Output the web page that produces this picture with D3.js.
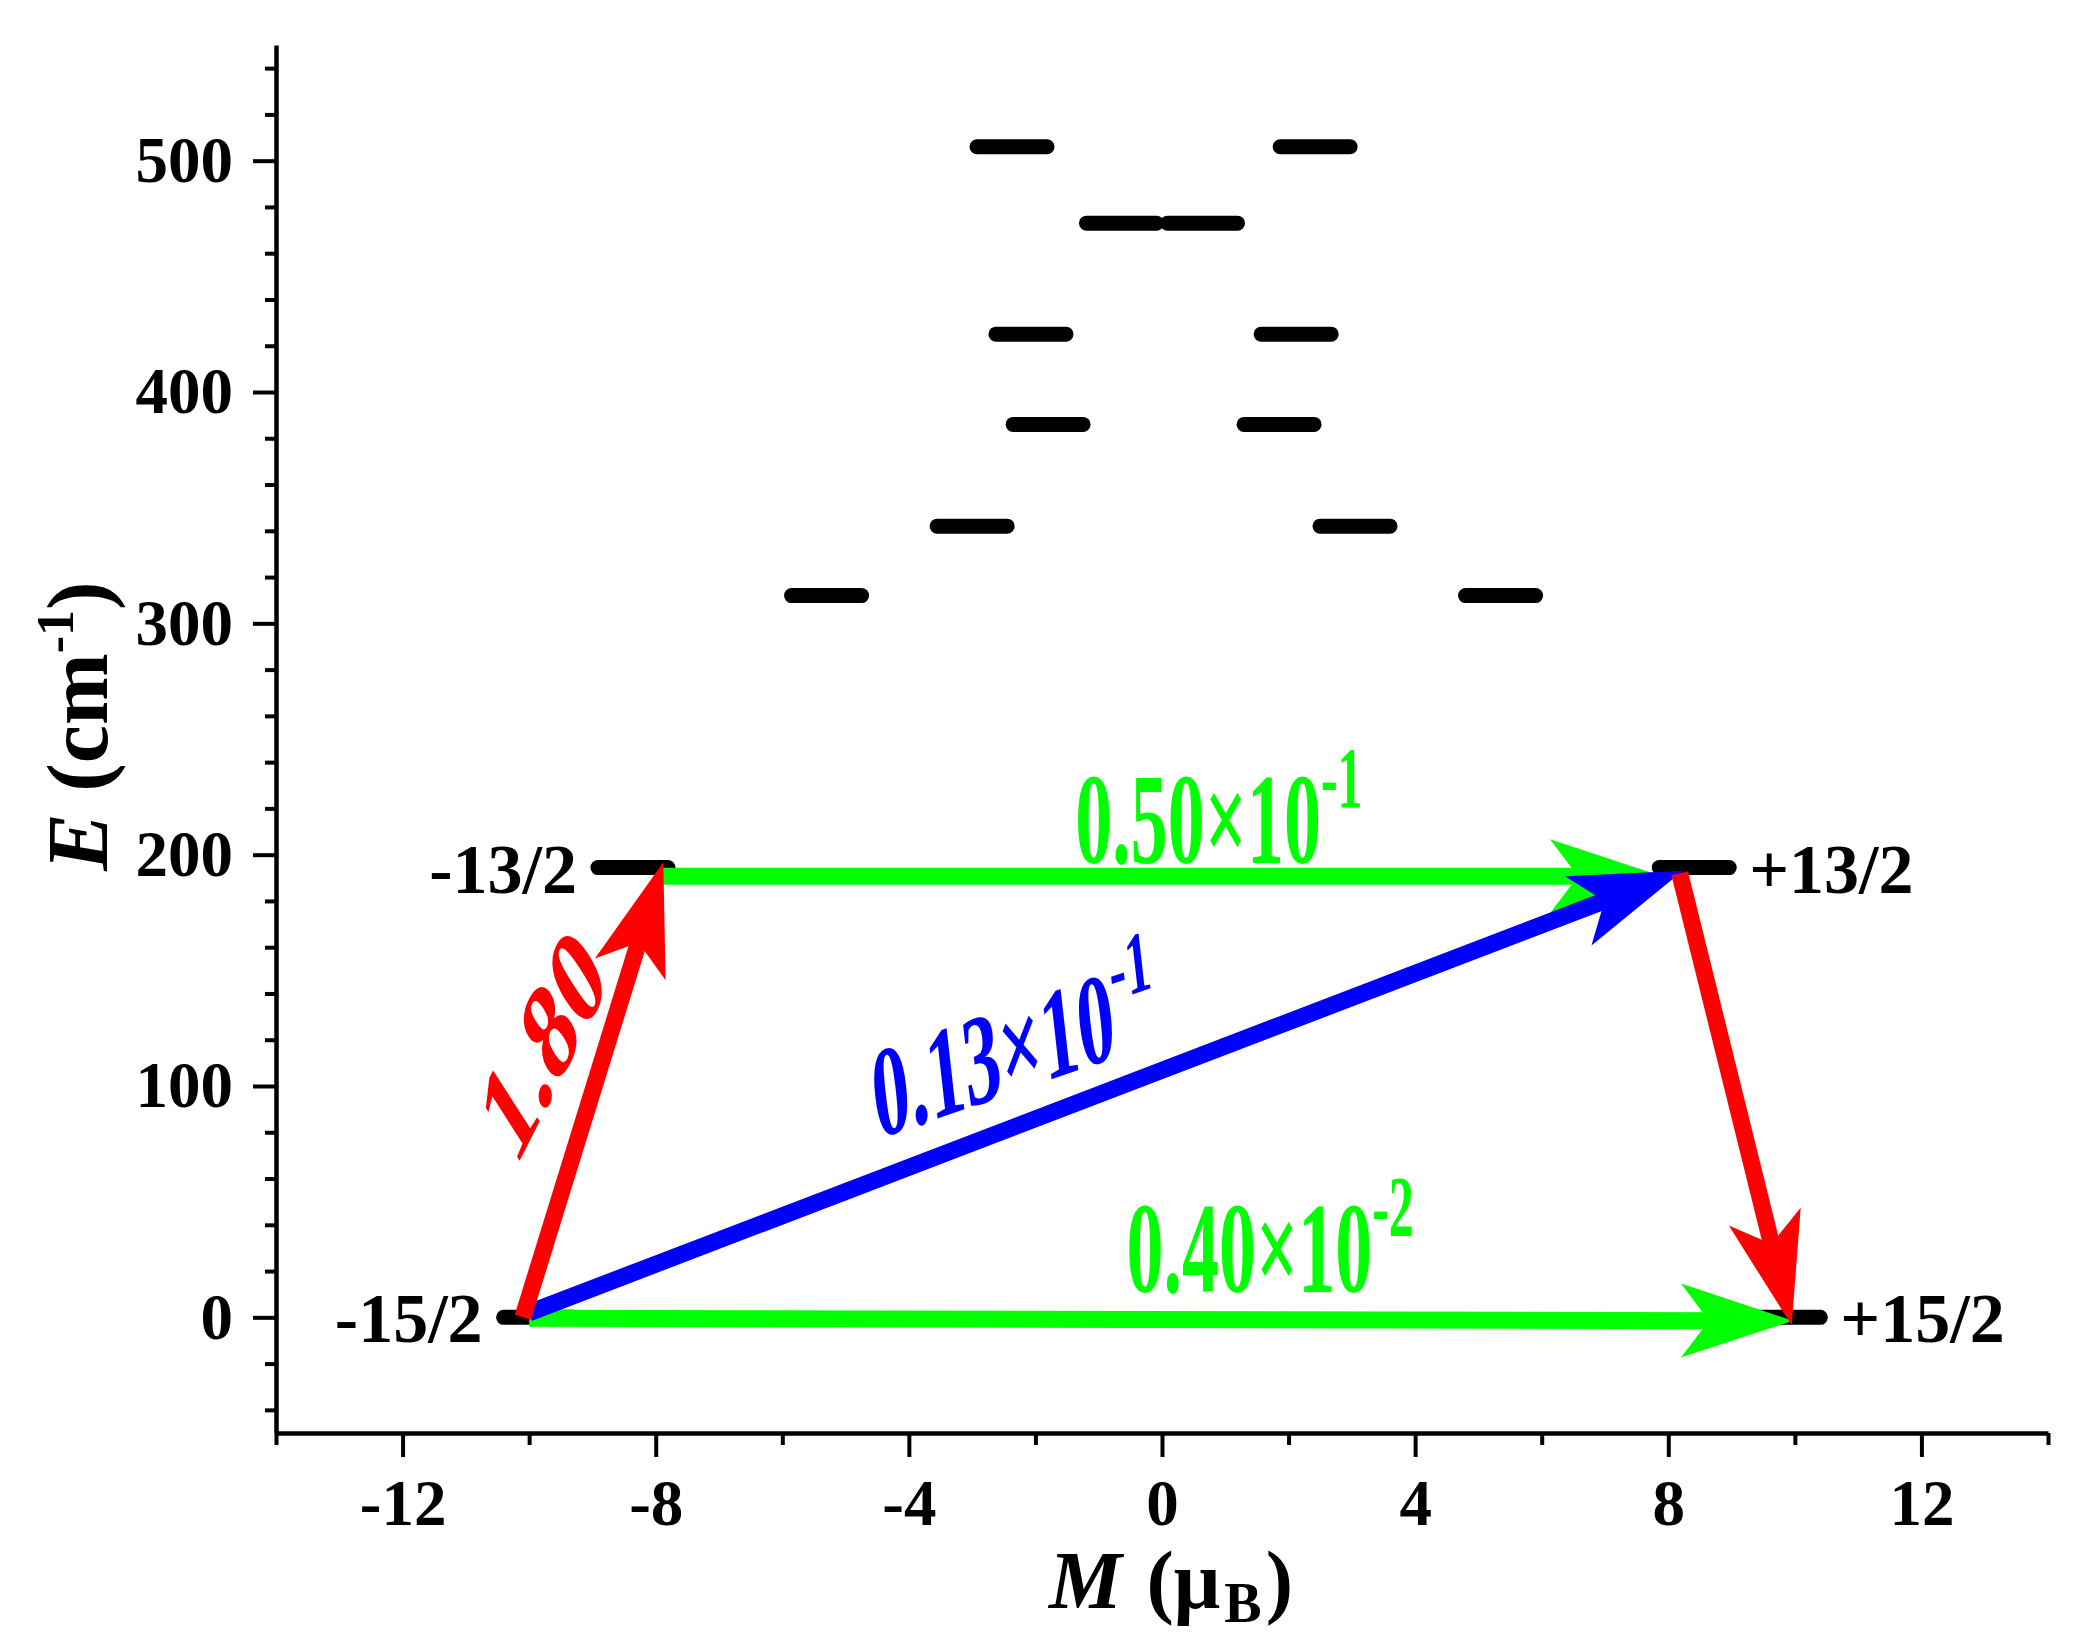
<!DOCTYPE html>
<html>
<head>
<meta charset="utf-8">
<script src="https://cdn.jsdelivr.net/npm/d3@7"></script>
<style>
body { margin: 0; background: #fff; }
text { font-family: "Liberation Serif", "Times New Roman", serif; }
</style>
</head>
<body>
<div id="chart_area"></div>
<script>
// Kramers doublets: magnetic moment M (muB) and energy E (cm-1)
var levelM = [-9.85, 9.85, -8.36, 8.41, -5.30, 5.35, -3.00, 3.05, -1.80, 1.85, -2.07, 2.12, -0.64, 0.64, -2.37, 2.42];
var levelE = [0, 0, 194.4, 194.4, 312, 312, 342, 342, 386, 386, 425, 425, 473, 473, 506, 506];

// named ground / first excited states
var stateNames = ["-15/2", "+15/2", "-13/2", "+13/2"];
var stateM = [-9.85, 9.85, -8.36, 8.41];
var stateE = [0, 0, 194.4, 194.4];

// transitions (arrows) with their matrix elements
var transType = ["qtm", "qtm", "orbach", "phonon", "phonon"];
var transFromM = [-7.9, -10.0, -10.0, -10.1, 8.18];
var transFromE = [190.7, -0.4, 2.0, 0, 192];
var transToM = [7.9, 9.97, 8.23, -7.88, 9.95];
var transToE = [190.7, -1.5, 193, 196.7, -3.5];
var transText = ["0.50\u00d710", "0.40\u00d710", "0.13\u00d710", "1.80", ""];
var transExp = ["-1", "-2", "-1", "", ""];
// where each value label starts (M, E) and its slope in degrees
var labelM = [-1.37, -0.56, -4.50, -10.22, 0];
var labelE = [196.4, 11.0, 77.0, 64.0, 0];
var labelAngle = [0, 0, -19, -63, 0];

// axis ticks
var xTicks = [-12, -8, -4, 0, 4, 8, 12];
var xMinor = [-14, -10, -6, -2, 2, 6, 10, 14];
var yTicks = [0, 100, 200, 300, 400, 500];
var yMinor = [-40, -20, 20, 40, 60, 80, 120, 140, 160, 180, 220, 240, 260, 280,
              320, 340, 360, 380, 420, 440, 460, 480, 520, 540];

var width = 2075, height = 1647;
var BAR_HALF = 35, HEAD_LEN = 112, HEAD_W = 37, HEAD_NOTCH = 84;
var STRETCH = 1.75;

var svg = d3.select("#chart_area")
    .append("svg")
        .attr("width", width)
        .attr("height", height);

var x = d3.scaleLinear().domain([-14, 14]).range([276, 2048]);
var y = d3.scaleLinear().domain([-50, 550]).range([1433, 45]);

var colour = d3.scaleOrdinal()
    .domain(["qtm", "orbach", "phonon"])
    .range(["#00ff00", "#0000ff", "#ff0000"]);

// x axis
var xAxis = d3.axisBottom(x)
    .tickValues(xTicks)
    .tickSize(24)
    .tickSizeOuter(0)
    .tickPadding(22)
    .tickFormat(function(d){ return String(d); });
svg.append("g")
    .attr("transform", "translate(0," + y(-50) + ")")
    .call(xAxis);
svg.append("g")
    .attr("transform", "translate(0," + y(-50) + ")")
    .call(d3.axisBottom(x).tickValues(xMinor).tickSize(12).tickSizeOuter(0).tickFormat(""))
    .select(".domain").remove();

// y axis
var yAxis = d3.axisLeft(y)
    .tickValues(yTicks)
    .tickSize(23)
    .tickSizeOuter(0)
    .tickPadding(20)
    .tickFormat(function(d){ return String(d); });
svg.append("g")
    .attr("transform", "translate(" + x(-14) + ",0)")
    .call(yAxis);
svg.append("g")
    .attr("transform", "translate(" + x(-14) + ",0)")
    .call(d3.axisLeft(y).tickValues(yMinor).tickSize(11).tickSizeOuter(0).tickFormat(""))
    .select(".domain").remove();

svg.selectAll(".domain").attr("stroke", "#000").attr("stroke-width", 4.5);
svg.selectAll(".tick line").attr("stroke", "#000").attr("stroke-width", 4);
svg.selectAll(".tick text")
    .attr("font-family", "'Liberation Serif', 'Times New Roman', serif")
    .attr("font-size", "65px")
    .attr("font-weight", "bold")
    .attr("fill", "#000");

// axis titles
var xt = svg.append("text")
    .attr("x", 1171)
    .attr("y", 1608)
    .attr("text-anchor", "middle")
    .attr("font-size", "82px")
    .attr("font-weight", "bold");
xt.append("tspan").attr("font-style", "italic").text("M");
xt.append("tspan").attr("dx", 4).text(" (\u03bc");
xt.append("tspan").attr("font-size", "56px").attr("dx", 4).attr("dy", 14).text("B");
xt.append("tspan").attr("dx", 4).attr("dy", -14).text(")");

var yt = svg.append("text")
    .attr("transform", "translate(107,726) rotate(-90)")
    .attr("text-anchor", "middle")
    .attr("font-size", "86px")
    .attr("font-weight", "bold");
yt.append("tspan").attr("font-style", "italic").text("E");
yt.append("tspan").text(" (cm");
yt.append("tspan").attr("font-size", "52px").attr("dy", -34).text("-1");
yt.append("tspan").attr("dy", 34).text(")");

// energy levels
var levels = levelM.map(function(m, i){ return {M: m, E: levelE[i]}; });
svg.selectAll(".level")
    .data(levels)
    .enter().append("line")
        .attr("class", "level")
        .attr("x1", function(d){ return x(d.M) - BAR_HALF; })
        .attr("x2", function(d){ return x(d.M) + BAR_HALF; })
        .attr("y1", function(d){ return y(d.E); })
        .attr("y2", function(d){ return y(d.E); })
        .attr("stroke", "#000")
        .attr("stroke-width", 15)
        .attr("stroke-linecap", "round");

// state names beside the lowest doublets
var states = stateNames.map(function(n, i){ return {name: n, M: stateM[i], E: stateE[i]}; });
svg.selectAll(".state")
    .data(states)
    .enter().append("text")
        .attr("class", "state")
        .attr("x", function(d){
            return d.M < 0 ? x(d.M) - BAR_HALF - 21 : x(d.M) + BAR_HALF + 20;
        })
        .attr("y", function(d){ return y(d.E) + 25; })
        .attr("text-anchor", function(d){ return d.M < 0 ? "end" : "start"; })
        .attr("font-size", "70px")
        .attr("font-weight", "bold")
        .text(function(d){ return d.name; });

// arrows
var trans = transType.map(function(t, i){
    return {type: t,
            x1: x(transFromM[i]), y1: y(transFromE[i]),
            x2: x(transToM[i]), y2: y(transToE[i]),
            text: transText[i], exp: transExp[i],
            lx: x(labelM[i]), ly: y(labelE[i]), angle: labelAngle[i]};
});

trans.forEach(function(d){
    var dx = d.x2 - d.x1, dy = d.y2 - d.y1;
    var len = Math.sqrt(dx*dx + dy*dy);
    var ux = dx/len, uy = dy/len, px = -uy, py = ux;

    svg.append("line")
        .attr("x1", d.x1).attr("y1", d.y1)
        .attr("x2", d.x2 - ux*(HEAD_NOTCH - 6))
        .attr("y2", d.y2 - uy*(HEAD_NOTCH - 6))
        .attr("stroke", colour(d.type))
        .attr("stroke-width", 17);

    var pts = [
        [d.x2, d.y2],
        [d.x2 - ux*HEAD_LEN + px*HEAD_W, d.y2 - uy*HEAD_LEN + py*HEAD_W],
        [d.x2 - ux*HEAD_NOTCH, d.y2 - uy*HEAD_NOTCH],
        [d.x2 - ux*HEAD_LEN - px*HEAD_W, d.y2 - uy*HEAD_LEN - py*HEAD_W]
    ];
    svg.append("polygon")
        .attr("points", pts.map(function(p){ return p.join(","); }).join(" "))
        .attr("fill", colour(d.type));
});

// value labels, drawn tall and narrow like the original
trans.forEach(function(d){
    if (!d.text) return;
    var a = Math.atan(Math.tan(d.angle*Math.PI/180)/STRETCH)*180/Math.PI;
    var t = svg.append("text")
        .attr("transform", "translate(" + d.lx + "," + d.ly + ") scale(1," + STRETCH + ") rotate(" + a + ")")
        .attr("font-size", d.type === "phonon" ? "82px" : "74px")
        .attr("font-weight", "bold")
        .attr("fill", colour(d.type))
        .text(d.text);
    if (d.exp) {
        t.append("tspan")
            .attr("font-size", "50px")
            .attr("dy", -32)
            .text(d.exp);
    }
});
</script>
</body>
</html>
